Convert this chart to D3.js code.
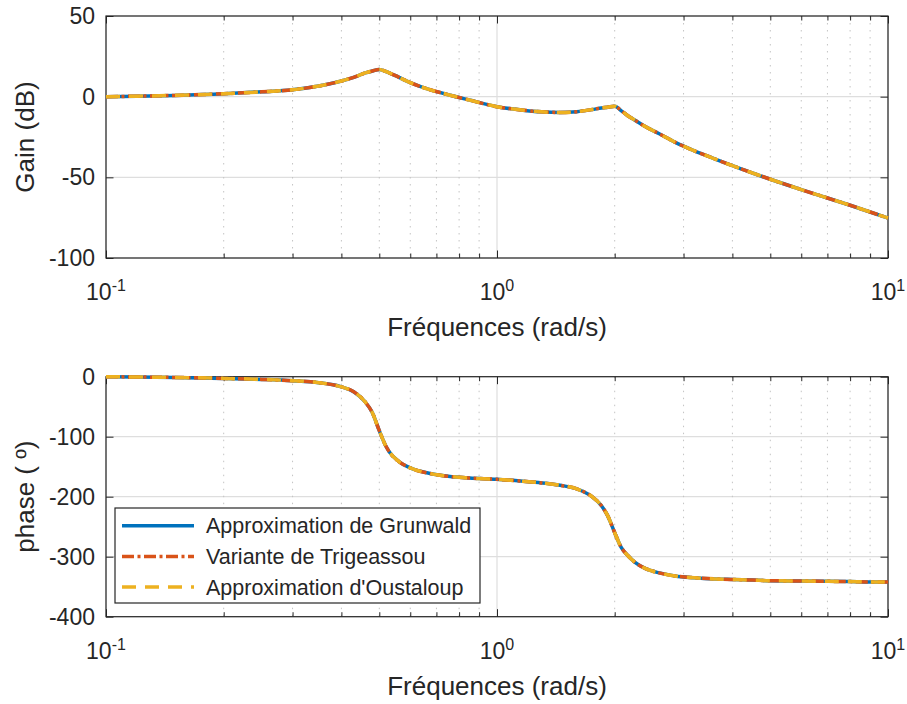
<!DOCTYPE html>
<html>
<head>
<meta charset="utf-8">
<script src="https://cdn.jsdelivr.net/npm/d3@7"></script>
<style>
  body { margin: 0; background: #fff; }
  svg text { font-family: "Liberation Sans", Arial, Helvetica, sans-serif; fill: #262626; }
</style>
</head>
<body>
<div id="bode"></div>
<script>
// valeurs lues sur le diagramme (les 3 approximations se superposent)
var freq  = [0.1, 0.12, 0.15, 0.2, 0.25, 0.3, 0.35, 0.4, 0.43, 0.46, 0.48, 0.5, 0.52, 0.53, 0.56, 0.6, 0.67, 0.75, 0.85,
             1.0, 1.15, 1.3, 1.45, 1.6, 1.75, 1.85, 1.92, 2.0, 2.08, 2.16, 2.25, 2.4, 2.6, 2.85, 3.2, 3.6,
             4.0, 4.5, 5.0, 6.0, 7.0, 8.0, 9.0, 10.0];
var gain  = [0, 0.3, 0.8, 1.8, 3.0, 4.3, 6.6, 9.7, 12.0, 14.7, 15.9, 16.9, 15.6, 14.8, 12.1, 8.7, 4.5, 1.2, -2.1,
             -6.2, -8.2, -9.4, -9.8, -9.3, -8.0, -7.0, -6.5, -5.9, -8.8, -11.8, -14.5, -18.7, -23.0, -28.2, -33.6, -38.5,
             -42.8, -47.3, -51.2, -57.6, -62.8, -67.3, -71.5, -75.2];
var phase = [0, -0.5, -1.2, -2.8, -4.5, -6.7, -10, -17, -25, -42, -60, -90, -116, -125, -141, -152, -161, -166, -169,
             -171, -174, -177, -181, -187, -200, -215, -232, -260, -285, -298, -309, -320, -327, -332, -335, -337,
             -338, -339, -340, -340.5, -341, -341.5, -342, -342];

var seriesNames = ["Approximation de Grunwald", "Variante de Trigeassou", "Approximation d'Oustaloup"];
var xTicks      = [0.1, 1, 10];
var xExponents  = ["-1", "0", "1"];
var gainTicks   = [-100, -50, 0, 50];
var phaseTicks  = [-400, -300, -200, -100, 0];

var colors = ["#0072BD", "#D95319", "#EDB120"];
var dashes = [null, "12,3.5,3,3.5", "14,9"];

var W = 907, H = 704;
var left = 106, right = 888;

var svg = d3.select('#bode').append('svg')
    .attr('width', W)
    .attr('height', H);

var xScale = d3.scaleLog()
    .domain([0.1, 10])
    .range([left, right]);

// graduations secondaires 2..9 de chaque decade
var minorTicks = [];
[0.1, 1].forEach(function(dec) {
  for (var k = 2; k <= 9; k++) minorTicks.push(dec * k);
});

function drawPanel(top, bottom, yDomain, yTicks, values, ylabel) {
  var yScale = d3.scaleLinear()
      .domain(yDomain)
      .range([bottom, top]);

  var g = svg.append('g');

  // grille
  g.selectAll('.gridy').data(yTicks).enter().append('line')
      .attr('x1', left).attr('x2', right)
      .attr('y1', function(d) { return yScale(d); })
      .attr('y2', function(d) { return yScale(d); })
      .attr('stroke', '#dedede').attr('stroke-width', 1.2);
  g.selectAll('.gridminor').data(minorTicks).enter().append('line')
      .attr('x1', function(d) { return xScale(d); })
      .attr('x2', function(d) { return xScale(d); })
      .attr('y1', top).attr('y2', bottom)
      .attr('stroke', '#c4c4c4').attr('stroke-width', 1)
      .attr('stroke-dasharray', '1.5,5.5');
  g.selectAll('.gridx').data(xTicks).enter().append('line')
      .attr('x1', function(d) { return xScale(d); })
      .attr('x2', function(d) { return xScale(d); })
      .attr('y1', top).attr('y2', bottom)
      .attr('stroke', '#dedede').attr('stroke-width', 1.2);

  // graduations (vers l'interieur, sur les 4 cotes)
  var axes = [
    [d3.axisBottom(xScale).tickValues(minorTicks).tickSize(-4.5), 'translate(0,' + bottom + ')'],
    [d3.axisBottom(xScale).tickValues(xTicks).tickSize(-7.5), 'translate(0,' + bottom + ')'],
    [d3.axisTop(xScale).tickValues(minorTicks).tickSize(-4.5), 'translate(0,' + top + ')'],
    [d3.axisTop(xScale).tickValues(xTicks).tickSize(-7.5), 'translate(0,' + top + ')'],
    [d3.axisRight(yScale).tickValues(yTicks).tickSize(-7.5), 'translate(' + right + ',0)'],
    [d3.axisLeft(yScale).tickValues(yTicks).tickSize(-7.5), 'translate(' + left + ',0)']
  ];
  axes.forEach(function(a) {
    var ax = g.append('g')
        .attr('transform', a[1])
        .call(a[0].tickFormat('').tickSizeOuter(0));
    ax.select('.domain').remove();
    ax.selectAll('line').attr('stroke', '#262626').attr('stroke-width', 1);
    ax.selectAll('text').remove();
  });

  g.append('rect')
      .attr('x', left).attr('y', top)
      .attr('width', right - left).attr('height', bottom - top)
      .attr('fill', 'none')
      .attr('stroke', '#262626').attr('stroke-width', 1.2);

  // etiquettes
  g.selectAll('.ylab').data(yTicks).enter().append('text')
      .attr('x', left - 11)
      .attr('y', function(d) { return yScale(d); })
      .attr('dy', '0.35em')
      .attr('text-anchor', 'end')
      .style('font-size', '23px')
      .text(function(d) { return d; });

  var xl = g.selectAll('.xlab').data(xTicks).enter().append('text')
      .attr('x', function(d) { return xScale(d); })
      .attr('y', bottom + 42)
      .attr('text-anchor', 'middle')
      .style('font-size', '23px');
  xl.append('tspan').text('10');
  xl.append('tspan')
      .attr('dy', -9)
      .style('font-size', '16px')
      .text(function(d, i) { return xExponents[i]; });

  g.append('text')
      .attr('x', (left + right) / 2)
      .attr('y', bottom + 78)
      .attr('text-anchor', 'middle')
      .style('font-size', '26px')
      .text('Fréquences (rad/s)');

  g.append('text')
      .attr('transform', 'translate(34,' + ((top + bottom) / 2) + ') rotate(-90)')
      .attr('text-anchor', 'middle')
      .style('font-size', '26px')
      .text(ylabel);

  // courbes
  var line = d3.line()
      .x(function(d, i) { return xScale(freq[i]); })
      .y(function(d) { return yScale(d); })
      .curve(d3.curveMonotoneX);

  seriesNames.forEach(function(name, i) {
    g.append('path')
        .datum(values)
        .attr('d', line)
        .attr('fill', 'none')
        .attr('stroke', colors[i])
        .attr('stroke-width', 3.5)
        .attr('stroke-dasharray', dashes[i]);
  });
}

drawPanel(16, 258, [-100, 50], gainTicks, gain, 'Gain (dB)');
drawPanel(376.7, 616.7, [-400, 0], phaseTicks, phase, 'phase ( º)');

// legende
var legend = svg.append('g')
    .attr('transform', 'translate(115,508)');
legend.append('rect')
    .attr('width', 365).attr('height', 95)
    .attr('fill', '#fff')
    .attr('stroke', '#262626').attr('stroke-width', 1.2);
var items = legend.selectAll('.item')
    .data(seriesNames)
    .enter()
    .append('g')
    .attr('transform', function(d, i) { return 'translate(0,' + (17.7 + i * 30.7) + ')'; });
items.append('line')
    .attr('x1', 7).attr('x2', 79)
    .attr('stroke', function(d, i) { return colors[i]; })
    .attr('stroke-width', 3.5)
    .attr('stroke-dasharray', function(d, i) { return dashes[i]; });
items.append('text')
    .attr('x', 91)
    .attr('dy', '0.35em')
    .style('font-size', '21.5px')
    .text(function(d) { return d; });
</script>
</body>
</html>
